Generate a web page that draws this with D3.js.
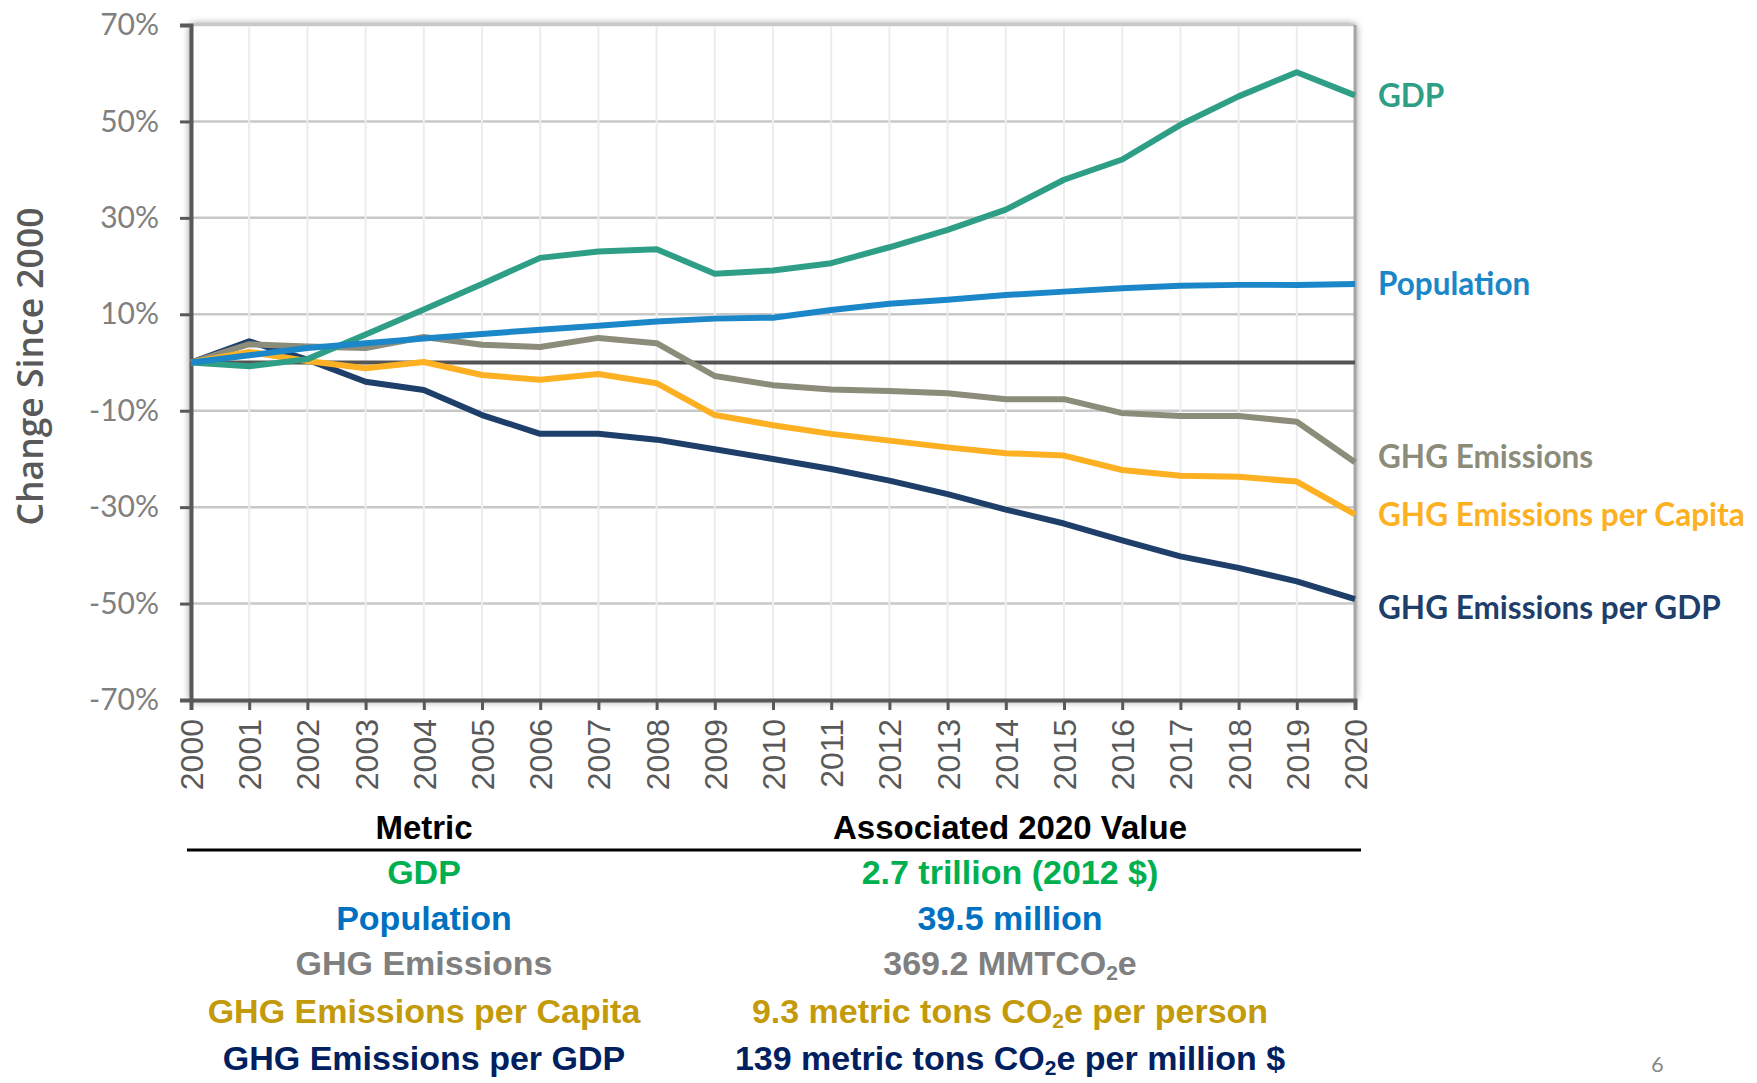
<!DOCTYPE html>
<html>
<head>
<meta charset="utf-8">
<script src="https://cdn.jsdelivr.net/npm/d3@7"></script>
<style>
  html, body { margin: 0; padding: 0; background: #fff; }
  svg { display: block; }
</style>
</head>
<body>
<div id="graph"></div>
<script>

// chart data (percent change since 2000)
var years = [2000, 2001, 2002, 2003, 2004, 2005, 2006, 2007, 2008, 2009, 2010,
             2011, 2012, 2013, 2014, 2015, 2016, 2017, 2018, 2019, 2020];

var gdp        = [0, -0.8, 0.7, 5.8, 11.0, 16.3, 21.7, 23.0, 23.5, 18.4, 19.1,
                  20.6, 23.9, 27.5, 31.7, 37.9, 42.1, 49.3, 55.2, 60.2, 55.4];
var population = [0, 1.5, 3.0, 4.0, 5.0, 5.9, 6.8, 7.6, 8.5, 9.1, 9.3,
                  10.9, 12.2, 13.0, 14.0, 14.7, 15.4, 15.9, 16.1, 16.1, 16.3];
var ghg        = [0, 3.8, 3.3, 3.0, 5.3, 3.7, 3.2, 5.1, 4.0, -2.8, -4.7,
                  -5.6, -5.9, -6.4, -7.6, -7.6, -10.5, -11.1, -11.1, -12.3, -20.7];
var perCapita  = [0, 2.2, 0.3, -1.2, 0.1, -2.6, -3.6, -2.4, -4.3, -10.9, -13.0,
                  -14.8, -16.2, -17.6, -18.8, -19.3, -22.3, -23.5, -23.7, -24.7, -31.5];
var perGdp     = [0, 4.4, 0.6, -4.0, -5.7, -10.9, -14.8, -14.8, -16.0, -18.0, -20.0,
                  -22.1, -24.5, -27.3, -30.5, -33.4, -36.9, -40.2, -42.6, -45.4, -49.1];

var seriesNames = ["GDP", "Population", "GHG Emissions", "GHG Emissions per Capita", "GHG Emissions per GDP"];
var yTicks = [70, 50, 30, 10, -10, -30, -50, -70];

// table under the chart ("_2" marks a subscript 2)
var tableHeaders = ["Metric", "Associated 2020 Value"];
var tableValues = ["2.7 trillion (2012 $)", "39.5 million", "369.2 MMTCO_2e",
                   "9.3 metric tons CO_2e per person", "139 metric tons CO_2e per million $"];

// styles
var lineColors  = ["#2e9f86", "#1b87c8", "#8c8c7b", "#fdb022", "#1f3f6b"];
var tableColors = ["#00b050", "#0070c0", "#808080", "#c39a0a", "#002060"];
var labelNudge  = [0, -1, -6, 0, 8];

var W = 1757, H = 1083;
var plot = {left: 191, top: 25, right: 1355, bottom: 700};

var svg = d3.select("#graph")
  .append("svg")
    .attr("width", W)
    .attr("height", H);

var defs = svg.append("defs");
var f = defs.append("filter")
  .attr("id", "shadow")
  .attr("x", "-5%").attr("y", "-5%")
  .attr("width", "110%").attr("height", "110%");
f.append("feGaussianBlur").attr("in", "SourceAlpha").attr("stdDeviation", 4);
f.append("feComponentTransfer").append("feFuncA").attr("type", "linear").attr("slope", 0.6);
var fm = f.append("feMerge");
fm.append("feMergeNode");
fm.append("feMergeNode").attr("in", "SourceGraphic");

var x = d3.scaleLinear()
  .domain([2000, 2020])
  .range([plot.left, plot.right]);

var y = d3.scaleLinear()
  .domain([-70, 70])
  .range([plot.bottom, plot.top]);

// plot area with its soft shadow
svg.append("rect")
  .attr("x", plot.left)
  .attr("y", plot.top)
  .attr("width", plot.right - plot.left)
  .attr("height", plot.bottom - plot.top)
  .attr("fill", "#fff")
  .attr("filter", "url(#shadow)");

// horizontal gridlines
svg.append("g")
  .selectAll("line")
  .data(yTicks.filter(function(d) { return d > -70; }))
  .enter()
  .append("line")
    .attr("x1", plot.left)
    .attr("x2", plot.right)
    .attr("y1", function(d) { return y(d); })
    .attr("y2", function(d) { return y(d); })
    .attr("stroke", "#c8c8c8")
    .attr("stroke-width", 2.5);

// vertical gridlines
svg.append("g")
  .selectAll("line")
  .data(years.slice(1, -1))
  .enter()
  .append("line")
    .attr("x1", function(d) { return x(d); })
    .attr("x2", function(d) { return x(d); })
    .attr("y1", plot.top + 2)
    .attr("y2", plot.bottom)
    .attr("stroke", "#ececec")
    .attr("stroke-width", 2);

// right border
svg.append("line")
  .attr("x1", plot.right).attr("x2", plot.right)
  .attr("y1", plot.top).attr("y2", plot.bottom)
  .attr("stroke", "#a6a6a6")
  .attr("stroke-width", 3);

// Y axis
var yAxis = svg.append("g")
  .attr("transform", "translate(" + plot.left + ",0)")
  .call(d3.axisLeft(y)
    .tickValues(yTicks)
    .tickFormat(function(d) { return d + "%"; })
    .tickSize(11)
    .tickPadding(21));
yAxis.select(".domain")
  .attr("stroke", "#595959")
  .attr("stroke-width", 4);
yAxis.selectAll(".tick line")
  .attr("stroke", "#595959")
  .attr("stroke-width", 3);
yAxis.selectAll(".tick text")
  .attr("fill", "#7f7f7f")
  .style("font-family", "Lato, 'Open Sans', sans-serif")
  .style("font-size", "30px");

// X axis
var xAxis = svg.append("g")
  .attr("transform", "translate(0," + plot.bottom + ")")
  .call(d3.axisBottom(x)
    .tickValues(years)
    .tickFormat(d3.format("d"))
    .tickSize(10));
xAxis.select(".domain")
  .attr("stroke", "#595959")
  .attr("stroke-width", 4);
xAxis.selectAll(".tick line")
  .attr("stroke", "#595959")
  .attr("stroke-width", 3);
xAxis.selectAll(".tick text")
  .attr("transform", "rotate(-90)")
  .attr("text-anchor", "end")
  .attr("x", -19)
  .attr("y", 0)
  .attr("dy", "0.36em")
  .attr("fill", "#595959")
  .style("font-family", "'Liberation Sans', Arial, sans-serif")
  .style("font-size", "32px");

// zero line
svg.append("line")
  .attr("x1", plot.left).attr("x2", plot.right)
  .attr("y1", y(0)).attr("y2", y(0))
  .attr("stroke", "#555")
  .attr("stroke-width", 4);

// Y axis title
svg.append("text")
  .attr("transform", "translate(29," + ((plot.top + plot.bottom) / 2 + 4) + ") rotate(-90)")
  .attr("text-anchor", "middle")
  .attr("dominant-baseline", "central")
  .attr("fill", "#595959")
  .style("font-family", "'Open Sans', Lato, sans-serif")
  .style("font-weight", "600")
  .style("font-size", "35.5px")
  .text("Change Since 2000");

// lines
var seriesValues = [gdp, population, ghg, perCapita, perGdp];
var line = d3.line()
  .x(function(d, i) { return x(years[i]); })
  .y(function(d) { return y(d); });

var drawOrder = [4, 2, 3, 0, 1];
svg.append("g")
  .selectAll("path")
  .data(drawOrder)
  .enter()
  .append("path")
    .attr("d", function(k) { return line(seriesValues[k]); })
    .attr("fill", "none")
    .attr("stroke", function(k) { return lineColors[k]; })
    .attr("stroke-width", 6)
    .attr("stroke-linejoin", "round");

// end labels
svg.append("g")
  .selectAll("text")
  .data(seriesNames)
  .enter()
  .append("text")
    .attr("x", plot.right + 23)
    .attr("y", function(d, i) { return y(seriesValues[i][seriesValues[i].length - 1]) + labelNudge[i]; })
    .attr("dominant-baseline", "central")
    .attr("fill", function(d, i) { return lineColors[i]; })
    .style("font-family", "Lato, 'Open Sans', sans-serif")
    .style("font-weight", "bold")
    .style("font-size", "31.5px")
    .text(function(d) { return d; });

// table
var col1 = 424, col2 = 1010;
var tableFont = "'Liberation Sans', Arial, sans-serif";

svg.append("g")
  .selectAll("text")
  .data(tableHeaders)
  .enter()
  .append("text")
    .attr("x", function(d, i) { return i == 0 ? col1 : col2; })
    .attr("y", 827)
    .attr("text-anchor", "middle")
    .attr("dominant-baseline", "central")
    .attr("fill", "#000")
    .style("font-family", tableFont)
    .style("font-weight", "bold")
    .style("font-size", "33px")
    .text(function(d) { return d; });

svg.append("line")
  .attr("x1", 187).attr("x2", 1361)
  .attr("y1", 850).attr("y2", 850)
  .attr("stroke", "#000")
  .attr("stroke-width", 3);

var rowY = [872, 918, 963, 1011, 1058];

var rows = svg.append("g")
  .selectAll("g")
  .data(seriesNames)
  .enter()
  .append("g");

rows.append("text")
  .attr("x", col1)
  .attr("y", function(d, i) { return rowY[i]; })
  .attr("text-anchor", "middle")
  .attr("dominant-baseline", "central")
  .attr("fill", function(d, i) { return tableColors[i]; })
  .style("font-family", tableFont)
  .style("font-weight", "bold")
  .style("font-size", "34px")
  .text(function(d) { return d; });

rows.append("text")
  .attr("x", col2)
  .attr("y", function(d, i) { return rowY[i] + 12; })
  .attr("text-anchor", "middle")
  .attr("fill", function(d, i) { return tableColors[i]; })
  .style("font-family", tableFont)
  .style("font-weight", "bold")
  .style("font-size", "34px")
  .each(function(d, i) {
    var t = d3.select(this);
    var parts = tableValues[i].split("_2");
    parts.forEach(function(p, j) {
      if (j > 0) {
        t.append("tspan")
          .attr("dy", 5)
          .style("font-size", "21px")
          .text("2");
        t.append("tspan").attr("dy", -5).text(p);
      } else {
        t.append("tspan").text(p);
      }
    });
  });

// page number
svg.append("text")
  .attr("x", 1651)
  .attr("y", 1072)
  .attr("fill", "#8a8a8a")
  .style("font-family", "Lato, sans-serif")
  .style("font-size", "22px")
  .text("6");

</script>
</body>
</html>
